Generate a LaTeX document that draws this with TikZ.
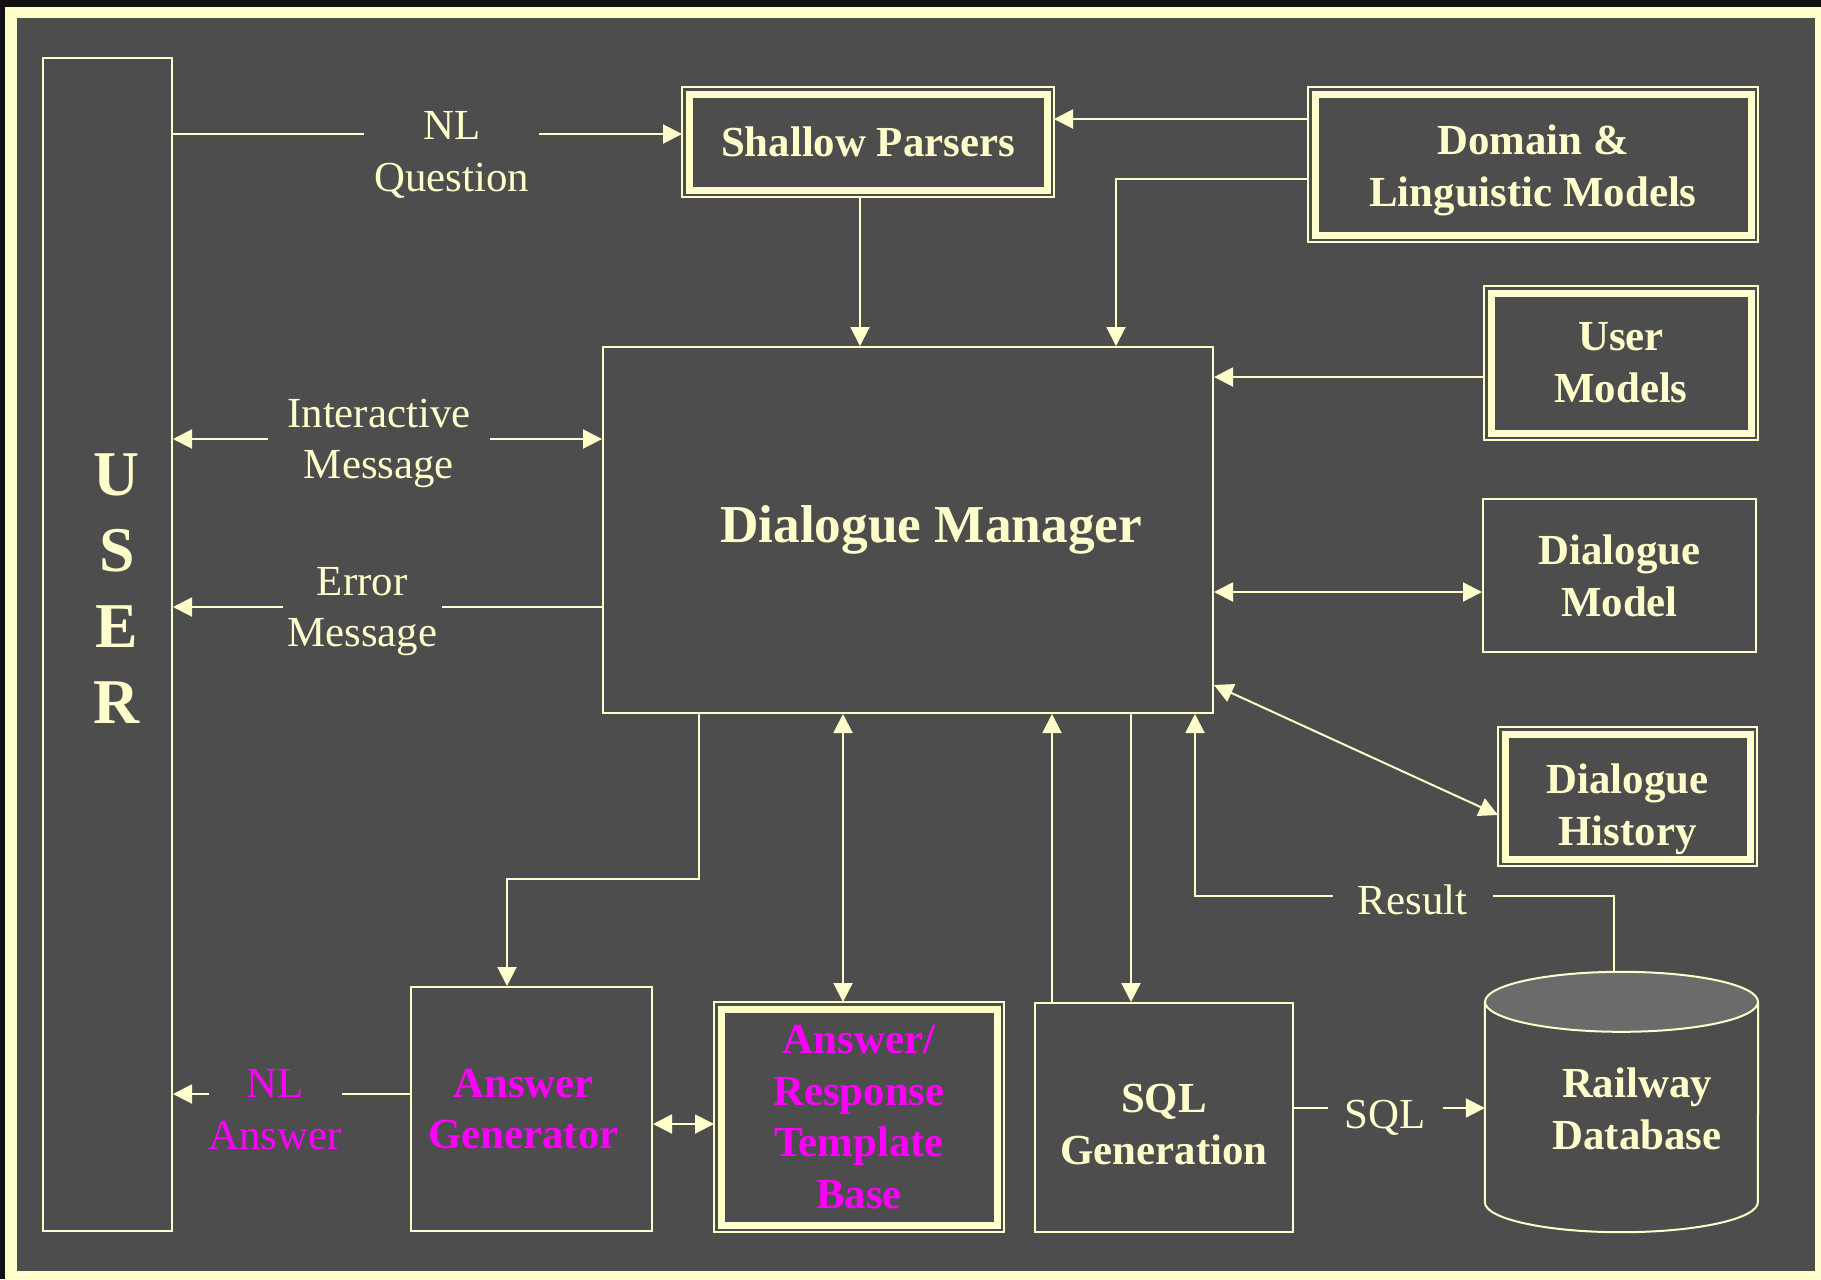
\documentclass[tikz,border=0pt]{standalone}
\usepackage{fontspec}
\setmainfont{Liberation Serif}
\usetikzlibrary{arrows.meta}
\definecolor{cream}{HTML}{FFFFCC}
\definecolor{panel}{HTML}{4D4D4D}
\definecolor{capgray}{HTML}{6B6B6B}
\definecolor{pinktext}{HTML}{FF00FF}
\definecolor{rim}{HTML}{111111}
\tikzset{wire/.style={
  draw=cream,
  line width=2bp,
  }
  }
\tikzset{plainbox/.style={
  draw=cream,
  line width=2bp,
  inner sep=0pt,
  text=cream,
  align=center,
  font=\fontsize{43}{52}\selectfont\bfseries,
  }
  }
\tikzset{dblbox/.style={
  plainbox,
  line width=7bp,
  outer sep=7bp,
  }
  }
\tikzset{tag/.style={
  text=cream,
  align=center,
  font=\fontsize{43}{52}\selectfont\bfseries,
  }
  }
\tikzset{msg/.style={
  fill=panel,
  inner sep=0pt,
  text=cream,
  align=center,
  font=\fontsize{43}{52}\selectfont,
  }
  }
\newcommand{\outerframe}[1]{\draw[cream, line width=1.5bp] (#1.north west) rectangle (#1.south east);}

\begin{document}
\begin{tikzpicture}[x=1bp, y=-1bp, >={Triangle[length=19bp, width=19bp]}]
      \useasboundingbox (0,0) rectangle (1821,1279);
      \fill[rim] (0,0) rectangle (1821,1279);
      \fill[cream] (5,7) rectangle (1821,1279);
      \fill[panel] (17,18) rectangle (1815,1271);

      \node[plainbox, minimum width=129bp, minimum height=1173bp,
        label={[tag, font=\fontsize{64}{76.5}\selectfont\bfseries, xshift=9.5bp, yshift=56bp]center:U\\S\\E\\R}] (user) at (107.5,644.5) {};
      \node[dblbox, minimum width=358bp, minimum height=96bp] (sp) at (868,142) {Shallow Parsers};
      \node[dblbox, minimum width=436bp, minimum height=141bp,
        label={[tag, yshift=-5.5bp]center:Domain \&\\Linguistic Models}] (dl) at (1533,164.5) {};
      \node[dblbox, minimum width=260bp, minimum height=140bp] (um) at (1621,363) {User\\Models};
      \node[plainbox, minimum width=273bp, minimum height=153bp] (dmod) at (1619.5,575.5) {Dialogue\\Model};
      \node[dblbox, minimum width=245bp, minimum height=125bp,
        label={[tag, yshift=-13bp]center:Dialogue\\History}] (dh) at (1627.5,796.5) {};
      \node[plainbox, minimum width=610bp, minimum height=366bp,
        label={[tag, font=\fontsize{53.5}{64}\selectfont\bfseries, xshift=23bp]center:Dialogue Manager}] (dm) at (908,530) {};
      \node[plainbox, minimum width=241bp, minimum height=244bp,
        label={[tag, text=pinktext, xshift=-8bp]center:Answer\\Generator}] (ag) at (531.5,1109) {};
      \node[dblbox, text=pinktext, minimum width=276bp, minimum height=216bp] (artb) at (859,1117) {Answer/\\Response\\Template\\Base};
      \node[plainbox, minimum width=258bp, minimum height=229bp,
        label={[tag, yshift=-7bp]center:SQL\\Generation}] (sql) at (1164,1117.5) {};
      \node[inner sep=0pt, minimum width=273bp, minimum height=260bp,
        label={[tag, xshift=15.5bp, yshift=-7bp]center:Railway\\Database}] (rdb) at (1621.5,1102) {};

      \outerframe{sp}
      \outerframe{dl}
      \outerframe{um}
      \outerframe{dh}
      \outerframe{artb}

      \draw[wire] ([yshift=-30bp]rdb.north west) -- ([yshift=30bp]rdb.south west)
        arc[start angle=180, end angle=360, x radius=136.5bp, y radius=30bp] -- ([yshift=-30bp]rdb.north east);
      \draw[wire, fill=capgray] ([yshift=-30bp]rdb.north) ellipse [x radius=136.5bp, y radius=30bp];

      \draw[wire, ->] (user.east |- 0,134) -- node[msg, pos=0.548, yshift=-21bp, minimum width=175bp] {NL\\Question} (sp.west |- 0,134);
      \draw[wire, <->] (user.east |- 0,439) -- node[msg, pos=0.48, yshift=-4.5bp, minimum width=222bp] {Interactive\\Message} (dm.west |- 0,439);
      \draw[wire, ->] (dm.west |- 0,607) -- node[msg, pos=0.559, yshift=-4.5bp, minimum width=159bp] {Error\\Message} (user.east |- 0,607);
      \draw[wire, ->] (ag.west |- 0,1094) -- node[msg, text=pinktext, pos=0.569, yshift=-16bp, minimum width=110bp] {NL\\Answer} (user.east |- 0,1094);

      \draw[wire, ->] (dl.west |- 0,119) -- (sp.east |- 0,119);
      \draw[wire, ->] (dl.west |- 0,179) -| (dm.north -| 1116,0);
      \draw[wire, ->] (sp.south -| 860,0) -- (dm.north -| 860,0);
      \draw[wire, ->] (um.west |- 0,377) -- (dm.east |- 0,377);
      \draw[wire, <->] (dm.east |- 0,592) -- (dmod.west |- 0,592);
      \draw[wire, <->] (dm.east |- 0,685) -- (dh.west |- 0,815);

      \draw[wire, ->] (dm.south -| 699,0) |- (507,879) -- (ag.north -| 507,0);
      \draw[wire, <->] (dm.south -| 843,0) -- (artb.north -| 843,0);
      \draw[wire, ->] (sql.north -| 1052,0) -- (dm.south -| 1052,0);
      \draw[wire, ->] (dm.south -| 1131,0) -- (sql.north -| 1131,0);
      \draw[wire, <->] (ag.east |- 0,1124) -- (artb.west |- 0,1124);

      \draw[wire, ->] (sql.east |- 0,1108) -- node[msg, pos=0.479, yshift=-10bp, minimum width=115bp] {SQL} (rdb.west |- 0,1108);
      \draw[wire, ->] ([xshift=-8bp]rdb.north) |- node[msg, pos=0.74, yshift=-4bp, minimum width=160bp] {Result} (1195,896) -- (dm.south -| 1195,0);
\end{tikzpicture}
\end{document}
